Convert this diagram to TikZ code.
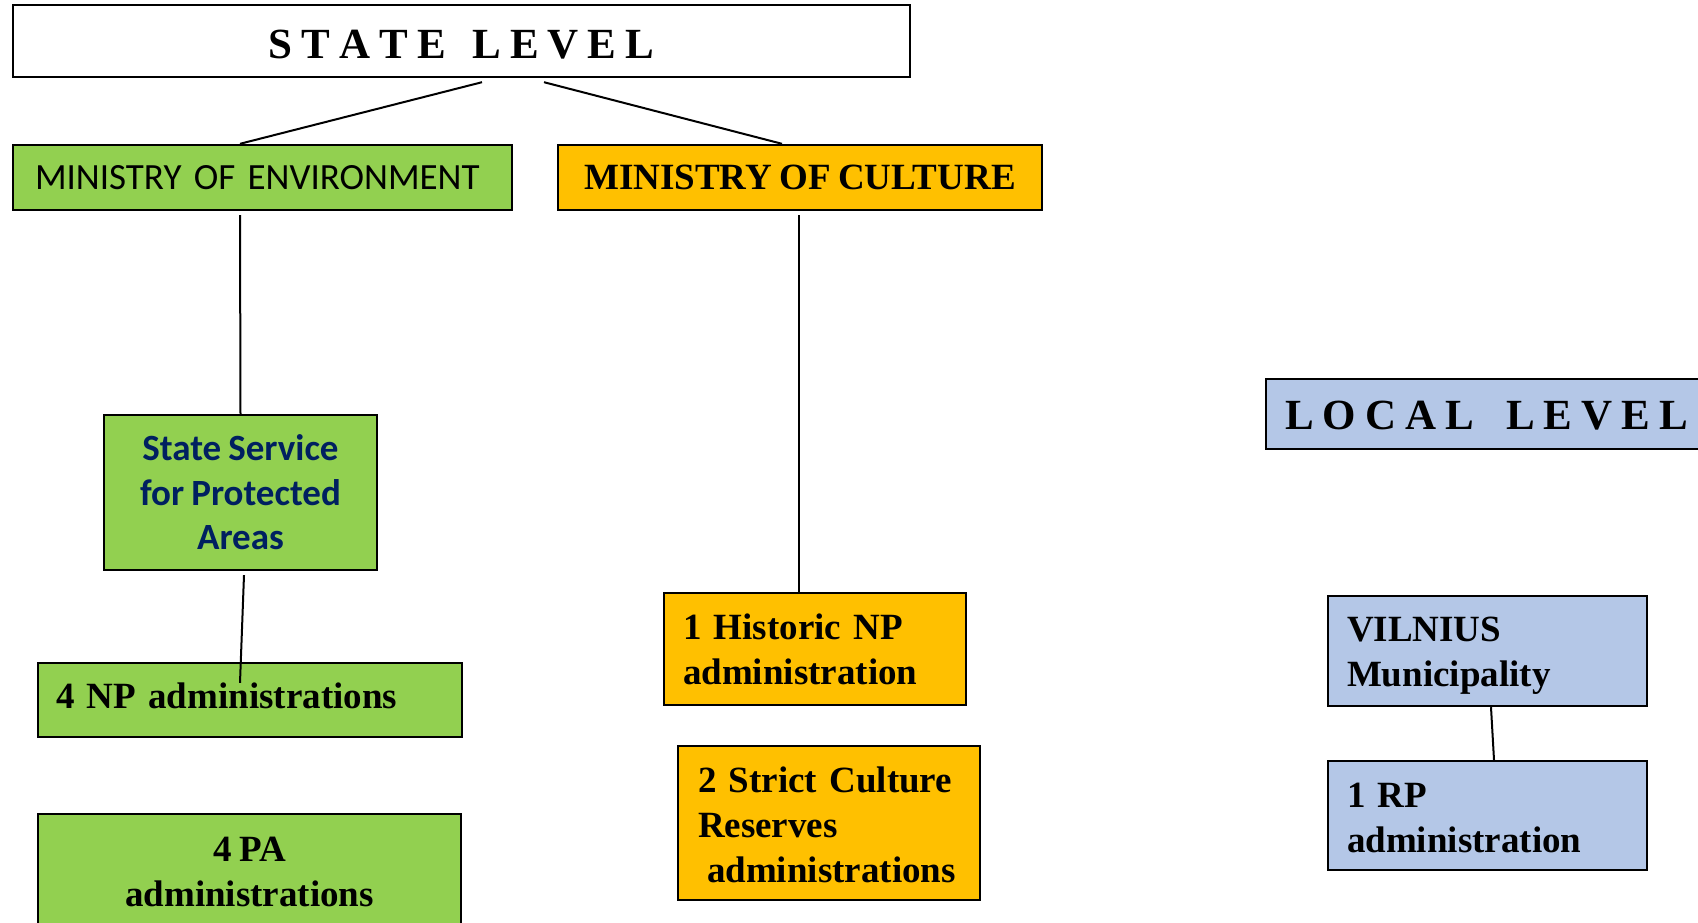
\documentclass[tikz,border=0pt]{standalone}
\usepackage{fontspec}
\setmainfont{Liberation Serif}[WordSpace=0.8]
\newfontfamily\calfont{Carlito}[WordSpace=0.85]
\definecolor{envgreen}{HTML}{92D050}
\definecolor{culorange}{HTML}{FFC000}
\definecolor{locblue}{HTML}{B4C7E7}
\definecolor{navytxt}{HTML}{002060}
\newcommand\ls{\hspace{4.5pt}}
\newcommand\upstrut[1]{\rule{0pt}{#1}}
\newcommand\dnstrut[1]{\rule[-#1]{0pt}{#1}}
\begin{document}
\begin{tikzpicture}[x=0.5pt,y=-0.5pt,
  boxc/.style={draw, line width=1.2pt, inner sep=0pt, align=center},
  boxl/.style={draw, line width=1.2pt, inner ysep=0pt, align=left},
  tnr/.style={font=\fontsize{18.5pt}{22.5pt}\selectfont\bfseries},
  lvl/.style={font=\fontsize{21.5pt}{26pt}\selectfont\bfseries},
  conn/.style={line width=1pt}]
\useasboundingbox (0,0) rectangle (1698,922);
\clip (0,0) rectangle (1698,922);

% state level
\node[boxc, lvl, fill=white, minimum width=448.5pt, minimum height=36pt] (state) at (461.5,41)
  {\upstrut{17.4pt}S\ls T\ls A\ls T\ls E\ls\space\ls L\ls E\ls V\ls E\ls L};

% ministries
\node[boxl, fill=envgreen, minimum width=249.5pt, minimum height=32.5pt, inner xsep=11pt, text width=227.5pt,
  font=\calfont\fontsize{18.5pt}{22.5pt}\selectfont] (env) at (262.5,177.5) {MINISTRY OF ENVIRONMENT};
\node[boxc, tnr, fill=culorange, minimum width=242pt, minimum height=32.5pt] (cult) at (800,177.5) {MINISTRY OF CULTURE};

% environment branch
\node[boxc, fill=envgreen, minimum width=136.5pt, minimum height=77.5pt, text=navytxt,
  font=\calfont\fontsize{18.5pt}{22.3pt}\selectfont\bfseries] (svc) at (240.5,492.5) {State Service\\for Protected\\Areas};
\node[boxl, tnr, fill=envgreen, minimum width=212pt, minimum height=37pt, inner xsep=9pt, text width=194pt] (np) at (250,700) {4 NP administrations\dnstrut{4.4pt}};
\node[boxc, tnr, fill=envgreen, minimum width=211.5pt, minimum height=58pt] (pa) at (249.5,872) {4 PA\\administrations};

% culture branch
\node[boxl, tnr, fill=culorange, minimum width=151pt, minimum height=56pt, inner xsep=9.5pt, text width=132pt] (hist) at (815,649) {\upstrut{13.6pt}1 Historic NP\\administration};
\node[boxl, tnr, fill=culorange, minimum width=151pt, minimum height=77pt, inner xsep=10pt, text width=131pt] (strict) at (829,823) {\upstrut{14.6pt}2 Strict Culture\\Reserves\\\hspace*{4.5pt}administrations};

% local level
\node[boxl, lvl, fill=locblue, minimum width=227pt, minimum height=35pt, inner xsep=9.5pt, text width=208pt] (local) at (1493,414)
  {\upstrut{16.2pt}L\ls O\ls C\ls A\ls L\ls\space\ls L\ls E\ls V\ls E\ls L};
\node[boxl, tnr, fill=locblue, minimum width=159.5pt, minimum height=55pt, inner xsep=9.5pt, text width=140.5pt] (vil) at (1487.5,651) {\upstrut{16.6pt}VILNIUS\\Municipality};
\node[boxl, tnr, fill=locblue, minimum width=159.5pt, minimum height=54.5pt, inner xsep=9.5pt, text width=140.5pt] (rp) at (1487.5,815.5) {\upstrut{14.2pt}1 RP\\administration};

% connectors
\draw[conn] ([shift={(20.5,4)}]state.south) -- ([shift={(-22.5,0)}]env.north);
\draw[conn] ([shift={(82.5,4)}]state.south) -- ([shift={(-18,0)}]cult.north);
\draw[conn] ([shift={(-22.5,4)}]env.south) -- (svc.north);
\draw[conn] ([shift={(3.5,4)}]svc.south) -- ([shift={(-10,21)}]np.north);
\draw[conn] ([shift={(-1,4)}]cult.south) -- ([shift={(-16,0)}]hist.north);
\draw[conn] ([shift={(3.5,0)}]vil.south) -- ([shift={(6.5,0)}]rp.north);
\end{tikzpicture}
\end{document}
